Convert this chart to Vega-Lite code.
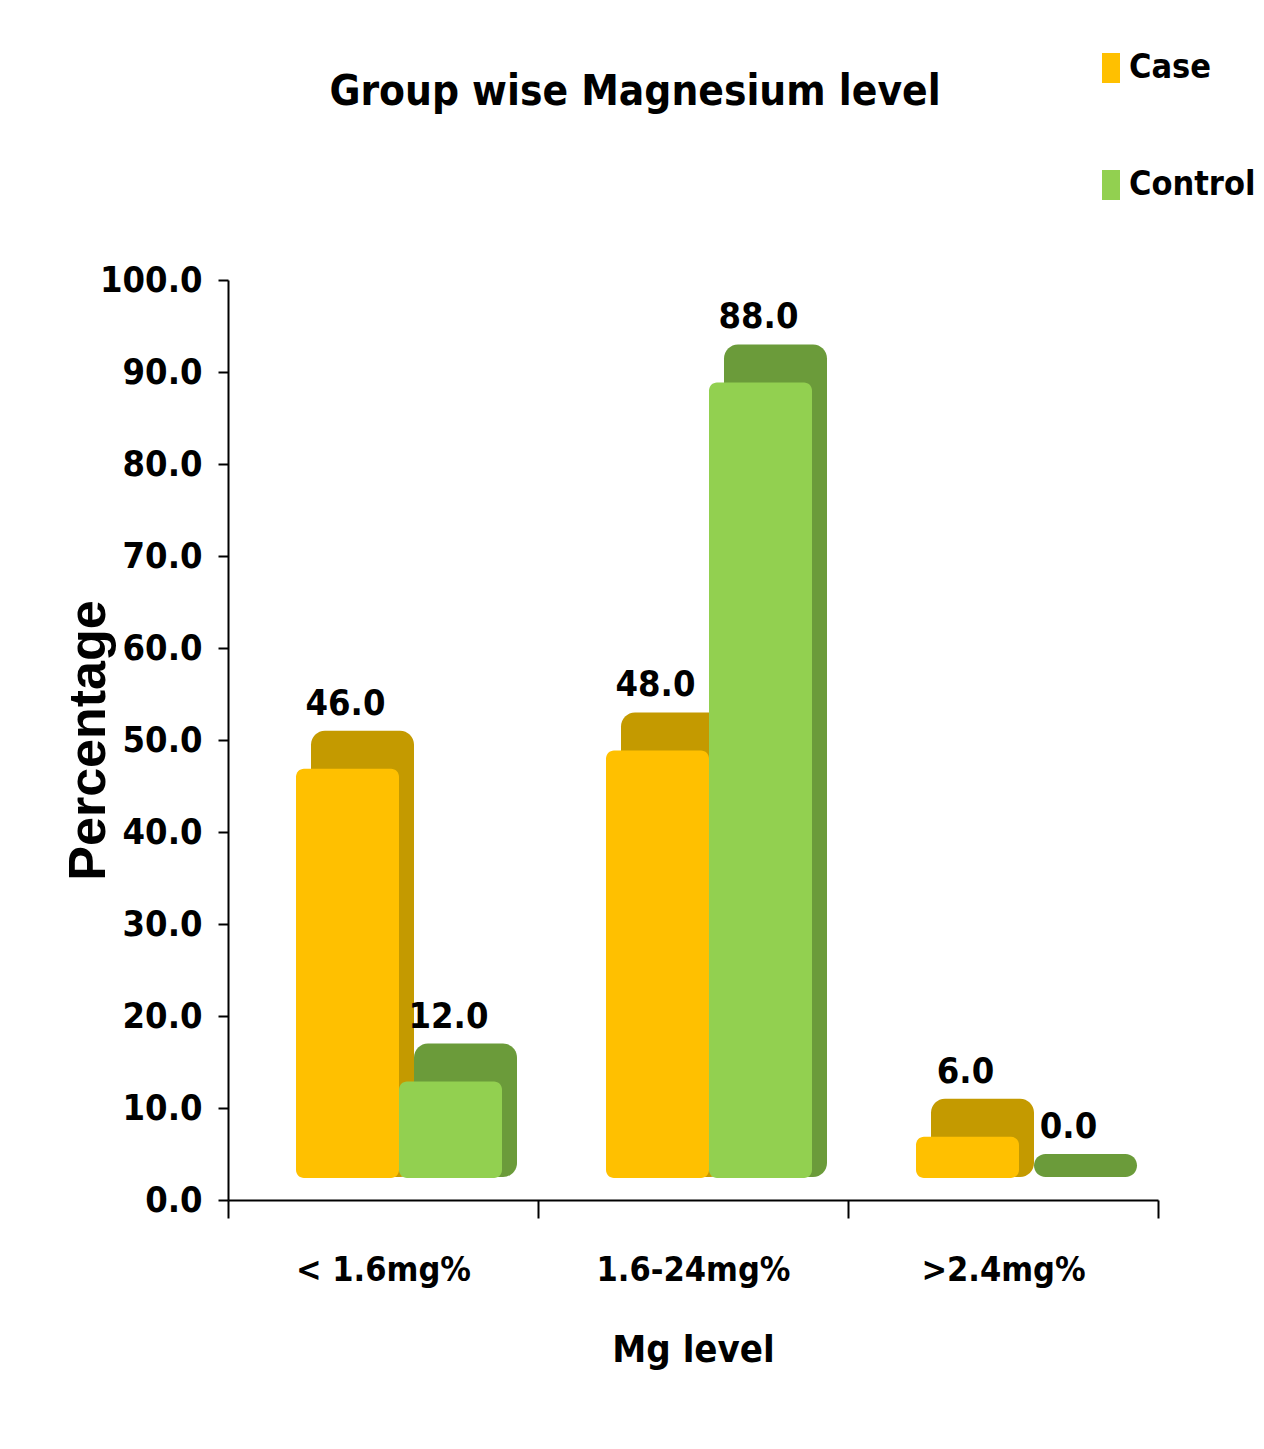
{
  "$schema": "https://vega.github.io/schema/vega-lite/v6.json",
  "width": 930,
  "height": 920,
  "autosize": {"type": "none"},
  "padding": {"left": 228, "top": 280, "right": 106, "bottom": 249},
  "background": "white",
  "config": {
    "view": {"stroke": null},
    "font": "Liberation Sans Narrow, Arial Narrow, DejaVu Sans Condensed, sans-serif"
  },
  "title": {
    "text": "Group wise Magnesium level",
    "fontSize": 42,
    "fontWeight": "bold",
    "color": "black",
    "anchor": "middle",
    "dx": -58,
    "offset": -63
  },
  "data": {
    "values": [
      {"group": "< 1.6mg%", "series": "Case", "value": 46.0},
      {"group": "< 1.6mg%", "series": "Control", "value": 12.0},
      {"group": "1.6-24mg%", "series": "Case", "value": 48.0},
      {"group": "1.6-24mg%", "series": "Control", "value": 88.0},
      {"group": ">2.4mg%", "series": "Case", "value": 6.0},
      {"group": ">2.4mg%", "series": "Control", "value": 0.0}
    ]
  },
  "encoding": {
    "x": {
      "field": "group",
      "type": "nominal",
      "sort": ["< 1.6mg%", "1.6-24mg%", ">2.4mg%"],
      "scale": {"paddingInner": 0, "paddingOuter": 0},
      "title": "Mg level",
      "axis": {
        "labelAngle": 0,
        "labelFontSize": 34,
        "labelFontWeight": "bold",
        "labelColor": "black",
        "labelLimit": 0,
        "labelPadding": 35,
        "tickBand": "extent",
        "tickSize": 18,
        "tickWidth": 2,
        "tickColor": "black",
        "domainColor": "black",
        "domainWidth": 2,
        "titleFontSize": 38,
        "titleFontWeight": "bold",
        "titleColor": "black",
        "titlePadding": 44
      }
    },
    "y": {
      "field": "value",
      "type": "quantitative",
      "scale": {"domain": [0, 100], "nice": false},
      "title": "Percentage",
      "axis": {
        "values": [0, 10, 20, 30, 40, 50, 60, 70, 80, 90, 100],
        "format": ".1f",
        "grid": false,
        "labelFontSize": 36,
        "labelFontWeight": "bold",
        "labelColor": "black",
        "labelPadding": 16,
        "tickSize": 10,
        "tickWidth": 2,
        "tickColor": "black",
        "domainColor": "black",
        "domainWidth": 2,
        "titleFont": "Liberation Sans, DejaVu Sans, sans-serif",
        "titleFontSize": 52,
        "titleFontWeight": "bold",
        "titleColor": "black",
        "titleAngle": -90,
        "titleX": -140,
        "titleY": 460,
        "titleAlign": "center",
        "titleBaseline": "middle"
      }
    }
  },
  "layer": [
    {
      "mark": {"type": "bar", "yOffset": -46, "y2Offset": -23, "cornerRadius": 14},
      "encoding": {
        "y2": {"datum": 0},
        "xOffset": {
          "field": "series",
          "type": "nominal",
          "sort": ["Case", "Control"],
          "scale": {"range": [83, 289], "paddingInner": 0}
        },
        "color": {
          "field": "series",
          "type": "nominal",
          "scale": {"domain": ["Case", "Control"], "range": ["#C49A00", "#6B9B3A"]},
          "legend": null
        }
      }
    },
    {
      "mark": {"type": "bar", "yOffset": -8, "y2Offset": -22, "cornerRadius": 8},
      "encoding": {
        "y2": {"datum": 0},
        "xOffset": {
          "field": "series",
          "type": "nominal",
          "sort": ["Case", "Control"],
          "scale": {"range": [68, 274], "paddingInner": 0}
        },
        "opacity": {
          "condition": {"test": "datum.value == 0", "value": 0},
          "value": 1
        },
        "color": {
          "field": "series",
          "type": "nominal",
          "scale": {"domain": ["Case", "Control"], "range": ["#FFC000", "#92D050"]},
          "legend": {
            "title": null,
            "orient": "none",
            "legendX": 866,
            "legendY": -229,
            "padding": 0,
            "symbolType": "M-0.6,-1H0.6V1H-0.6Z",
            "symbolSize": 900,
            "symbolStrokeWidth": 0,
            "symbolOpacity": 1,
            "labelFontSize": 34,
            "labelFontWeight": "bold",
            "labelColor": "black",
            "labelOffset": 1,
            "rowPadding": 83
          }
        }
      }
    },
    {
      "mark": {"type": "text", "fontSize": 36, "fontWeight": "bold", "color": "black", "baseline": "alphabetic", "dy": -62, "dx": -2},
      "encoding": {
        "xOffset": {
          "field": "series",
          "type": "nominal",
          "sort": ["Case", "Control"],
          "scale": {"range": [68, 274], "paddingInner": 0}
        },
        "text": {"field": "value", "type": "quantitative", "format": ".1f"}
      }
    }
  ],
  "resolve": {"scale": {"color": "independent", "xOffset": "independent"}}
}
